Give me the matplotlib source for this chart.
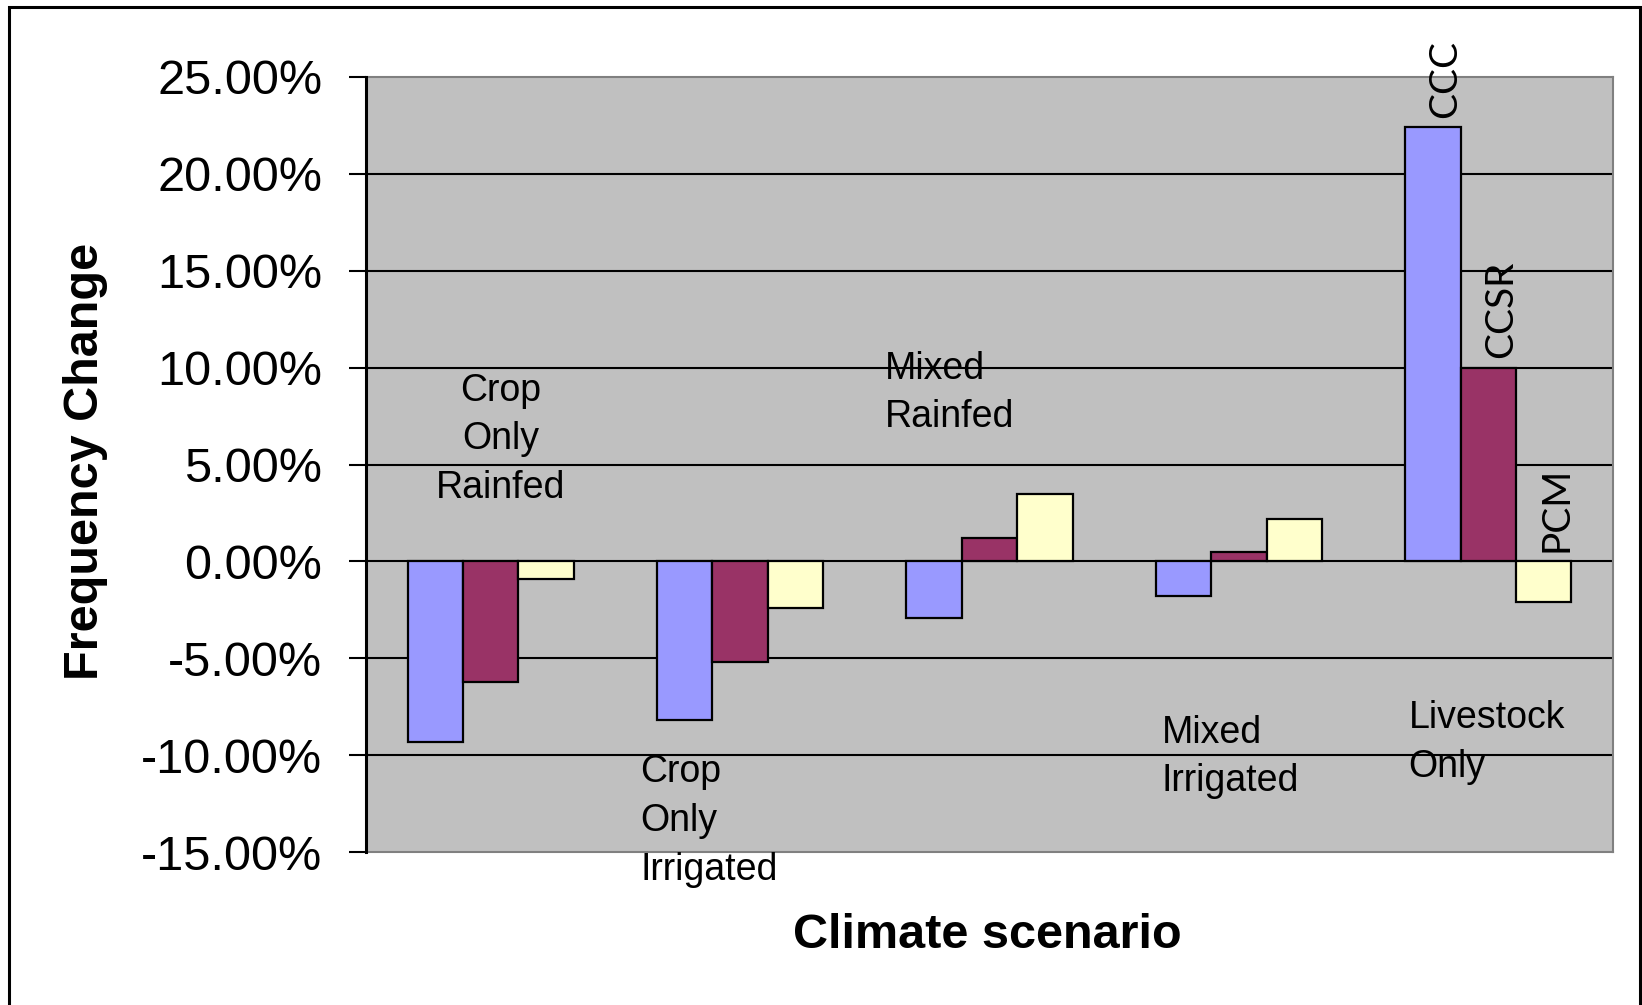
import numpy as np
import matplotlib
matplotlib.use("Agg")
import matplotlib.pyplot as plt
from matplotlib.patches import Rectangle
from matplotlib.ticker import FuncFormatter

plt.rcParams['font.family'] = ['Liberation Sans', 'DejaVu Sans']

categories = ["Crop\nOnly\nRainfed", "Crop\nOnly\nIrrigated", "Mixed\nRainfed",
              "Mixed\nIrrigated", "Livestock\nOnly"]
series = ["CCC", "CCSR", "PCM"]
ccc = [-9.3, -8.2, -2.9, -1.8, 22.4]
ccsr = [-6.2, -5.2, 1.2, 0.5, 10.0]
pcm = [-0.9, -2.4, 3.5, 2.2, -2.1]
yticks = [-15, -10, -5, 0, 5, 10, 15, 20, 25]

colors = ['#9999FF', '#993366', '#FFFFCC']

# where the (hand-moved) category captions sit, in data coords
cat_pos = [(0.04, 6.3, 'center'), (0.60, -13.4, 'left'), (1.58, 8.7, 'left'),
           (2.69, -10.1, 'left'), (3.68, -9.35, 'left')]

fig = plt.figure(figsize=(16.42, 10.05), dpi=100)
ax = fig.add_axes([0.2229, 0.1522, 0.7594, 0.7712])
ax.set_facecolor('#C0C0C0')

x = np.arange(len(categories))
w = 1 / 4.5
for i, (vals, c) in enumerate(zip([ccc, ccsr, pcm], colors)):
    ax.bar(x + (i - 1) * w, vals, width=w, color=c, edgecolor='black',
           linewidth=1.6, zorder=3)

# series names over the last group
last = len(categories) - 1
for i, (name, vals) in enumerate(zip(series, [ccc, ccsr, pcm])):
    top = max(vals[last], 0)
    ax.annotate(name, (last + (i - 1) * w, top), xytext=(9, 7),
                textcoords='offset points', rotation=90, ha='center',
                va='bottom', fontsize=28, family=['Lato', 'DejaVu Sans'],
                zorder=4)

for lab, (cx, cy, ha) in zip(categories, cat_pos):
    ax.text(cx, cy, lab, ha=ha, va='center', multialignment=ha,
            fontsize=27, linespacing=1.45, zorder=4)

ax.set_xlim(-0.5, len(categories) - 0.5)
ax.set_ylim(-15, 25)
ax.set_xticks([])
ax.set_yticks(yticks)
ax.yaxis.set_major_formatter(FuncFormatter(lambda v, p: f"{v:.2f}%"))
ax.tick_params(axis='y', length=12.5, width=1.5, pad=19, labelsize=35,
               direction='out')

for v in yticks[1:-1]:
    ax.axhline(v, color='black', linewidth=1.5, zorder=2)

for s in ['top', 'right', 'bottom']:
    ax.spines[s].set_color('#808080')
    ax.spines[s].set_linewidth(1.5)
ax.spines['left'].set_color('black')
ax.spines['left'].set_linewidth(2.2)
ax.spines['left'].set_zorder(5)

fig.text(86 / 1642, 1 - 461 / 1005, "Frequency Change", rotation=90,
         ha='center', va='center', fontsize=35, fontweight='bold')
fig.text(987 / 1642, 1 - 936 / 1005, "Climate scenario", ha='center',
         va='center', fontsize=35, fontweight='bold')

# outer chart frame
fig.patches.append(Rectangle((9 / 1642, -0.05), 1631 / 1642, 1.05 - 7 / 1005,
                             transform=fig.transFigure, fill=False,
                             edgecolor='black', linewidth=2.2))

fig.savefig("out.png", dpi=100)
